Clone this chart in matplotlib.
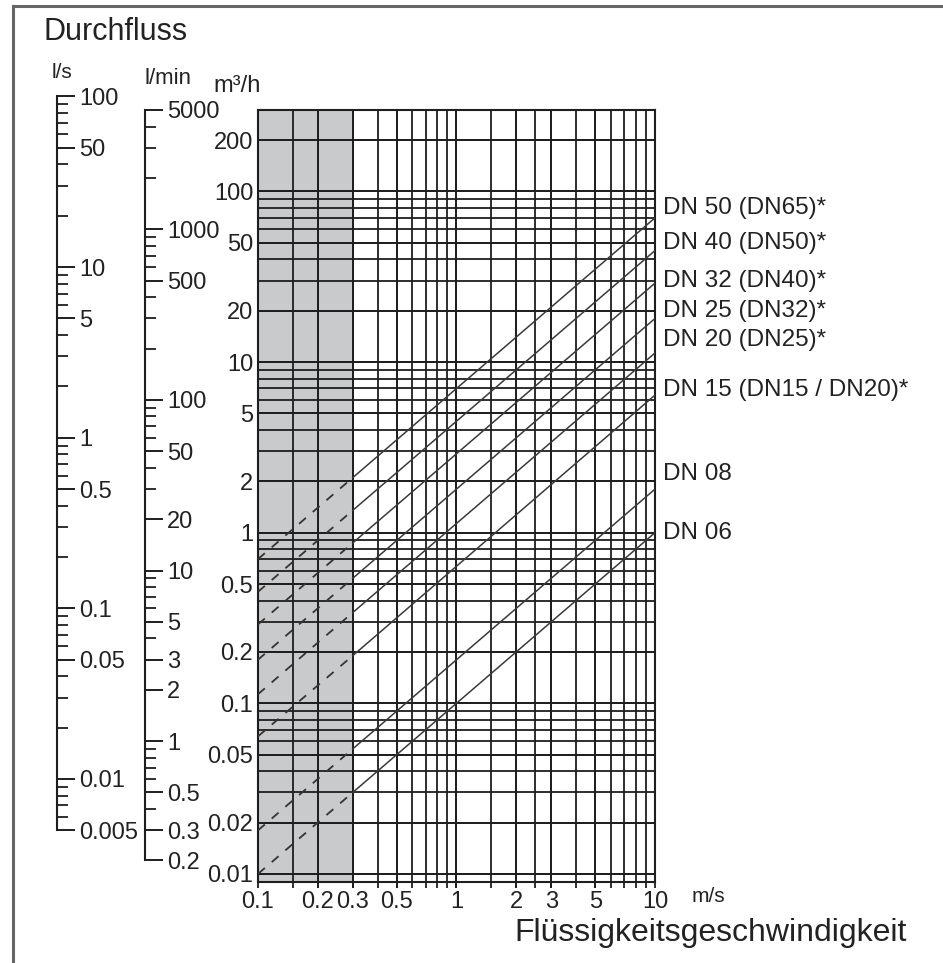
"""Durchfluss-Diagramm: Volumenstrom gegen Fliessgeschwindigkeit fuer verschiedene Nennweiten."""

import matplotlib.pyplot as plt
import numpy as np
from matplotlib.lines import Line2D
from matplotlib.ticker import FixedLocator, FuncFormatter, LogLocator, NullFormatter

plt.rcParams["font.family"] = ["Liberation Sans", "DejaVu Sans"]
plt.rcParams["text.color"] = "#222222"
plt.rcParams["xtick.color"] = "#222222"
plt.rcParams["ytick.color"] = "#222222"

W, H = 943, 963

dn_labels = [
    "DN 50 (DN65)*",
    "DN 40 (DN50)*",
    "DN 32 (DN40)*",
    "DN 25 (DN32)*",
    "DN 20 (DN25)*",
    "DN 15 (DN15 / DN20)*",
    "DN 08",
    "DN 06",
]
speed_points = [0.1, 0.3, 10]
flow_at_01 = [0.70, 0.45, 0.29, 0.18, 0.113, 0.064, 0.018, 0.010]
flow_at_03 = [2.1, 1.35, 0.87, 0.54, 0.34, 0.19, 0.054, 0.030]
flow_at_10 = [70, 45, 29, 18, 11.3, 6.4, 1.8, 1.0]
# Hoehe der Beschriftungen am rechten Rand (m3/h)
label_flow = [80, 50, 30, 20, 13.5, 6.9, 2.2, 1.0]

# Achsenbeschriftungen
x_labels = [0.1, 0.2, 0.3, 0.5, 1, 2, 3, 5, 10]
x_grid = [0.15, 0.2, 0.3, 0.4, 0.5, 0.6, 0.7, 0.8, 0.9, 1,
          1.5, 2, 2.5, 3, 4, 5, 6, 7, 8, 9]
y_labels = [0.01, 0.02, 0.05, 0.1, 0.2, 0.5, 1, 2, 5, 10, 20, 50, 100, 200]
y_grid = [m * d for d in (0.01, 0.1, 1, 10) for m in range(1, 10)] + [100, 200]

ls_labels = [0.005, 0.01, 0.05, 0.1, 0.5, 1, 5, 10, 50, 100]
lmin_labels = [0.2, 0.3, 0.5, 1, 2, 3, 5, 10, 20, 50, 100, 500, 1000, 5000]

fig = plt.figure(figsize=(W / 100, H / 100), dpi=100)

# Hauptdiagramm (Pixelposition aus der Vorlage)
left, right, top, bottom = 258, 655, 110, 881.7
ax = fig.add_axes([left / W, 1 - bottom / H, (right - left) / W, (bottom - top) / H])
ax.set_xscale("log")
ax.set_yscale("log")
ax.set_xlim(0.1, 10)
ax.set_ylim(0.009, 300)

ax.axvspan(0.1, 0.3, color="#c9cacc", zorder=0, lw=0)

ax.xaxis.set_major_locator(FixedLocator(x_labels))
ax.xaxis.set_minor_locator(FixedLocator(x_grid))
ax.yaxis.set_major_locator(FixedLocator(y_labels))
ax.yaxis.set_minor_locator(FixedLocator(y_grid))
fmt = FuncFormatter(lambda v, p: f"{v:g}")
ax.xaxis.set_major_formatter(fmt)
ax.yaxis.set_major_formatter(fmt)
ax.xaxis.set_minor_formatter(NullFormatter())
ax.yaxis.set_minor_formatter(NullFormatter())
ax.xaxis.remove_overlapping_locs = False
ax.yaxis.remove_overlapping_locs = False

ax.grid(True, which="both", color="#1e1e1e", lw=1.3)
ax.tick_params(axis="x", which="both", direction="out", length=4, width=1.3,
               labelsize=17, pad=3, color="#1e1e1e")
ax.tick_params(axis="y", which="both", length=0, labelsize=17, pad=3.5)
for s in ax.spines.values():
    s.set_color("#1e1e1e")
    s.set_linewidth(1.5)

# Nennweiten-Linien: gestrichelt im grauen Bereich, danach durchgezogen
for lab, q1, q3, q10, qy in zip(dn_labels, flow_at_01, flow_at_03, flow_at_10, label_flow):
    ax.plot(speed_points[:2], [q1, q3], color="#333333", lw=1.3, dashes=(5, 5), zorder=3)
    ax.plot(speed_points[1:], [q3, q10], color="#3a3a3a", lw=1.1, zorder=3)
    ax.annotate(lab, xy=(10, qy), xytext=(6, 0), textcoords="offset points",
                va="center", ha="left", fontsize=17.5, annotation_clip=False)


def to_fig_y(q):
    return fig.transFigure.inverted().transform(ax.transData.transform((0.1, q)))[1]


def add_scale(x_px, factor, lo, hi, majors):
    # factor: m3/h pro Einheit der Skala
    b, t = to_fig_y(lo * factor), to_fig_y(hi * factor)
    sax = fig.add_axes([x_px / W - 0.0001, b, 0.0001, t - b])
    sax.set_yscale("log")
    sax.set_ylim(lo, hi)
    sax.set_xticks([])
    sax.patch.set_visible(False)
    for name, s in sax.spines.items():
        s.set_visible(name == "right")
    sax.spines["right"].set_color("#1e1e1e")
    sax.spines["right"].set_linewidth(1.5)
    sax.yaxis.tick_right()
    sax.yaxis.set_major_locator(FixedLocator(majors))
    sax.yaxis.set_minor_locator(LogLocator(base=10, subs=np.arange(2, 10)))
    sax.yaxis.set_major_formatter(FuncFormatter(lambda v, p: f"{v:g}"))
    sax.yaxis.set_minor_formatter(NullFormatter())
    sax.tick_params(which="major", direction="out", length=13, width=1.4,
                    labelsize=17, pad=3, color="#1e1e1e")
    sax.tick_params(which="minor", direction="out", length=8, width=1.3,
                    color="#1e1e1e")
    return sax


add_scale(57, 3.6, 0.005, 100, ls_labels)
add_scale(145, 0.06, 0.2, 5000, lmin_labels)

# Texte
fig.text(43 / W, 1 - 32 / H, "Durchfluss", fontsize=22, va="center", ha="left")
fig.text(52 / W, 1 - 73 / H, "l/s", fontsize=15, va="center", ha="left")
fig.text(144 / W, 1 - 79 / H, "l/min", fontsize=16, va="center", ha="left")
fig.text(213 / W, 1 - 86 / H, "m³/h", fontsize=17, va="center", ha="left")
fig.text(692 / W, 1 - 896 / H, "m/s", fontsize=15, va="center", ha="left")
fig.text(514 / W, 1 - 933 / H, "Flüssigkeitsgeschwindigkeit", fontsize=23,
         va="center", ha="left")

# Rahmen oben und links
fig.add_artist(Line2D([13 / W, 13 / W], [0, 1 - 6 / H], transform=fig.transFigure,
                      color="#666666", lw=2.2))
fig.add_artist(Line2D([13 / W, 1], [1 - 6 / H, 1 - 6 / H], transform=fig.transFigure,
                      color="#666666", lw=2.2))

fig.savefig("out.png", dpi=100)
